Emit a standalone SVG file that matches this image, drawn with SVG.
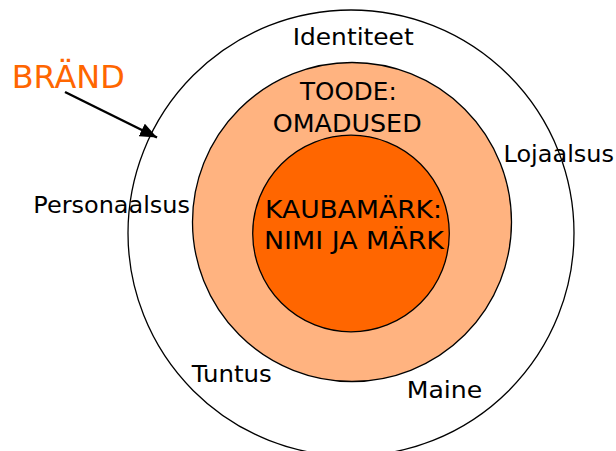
<svg xmlns="http://www.w3.org/2000/svg" width="616" height="451" viewBox="0 0 616 451">
<defs>
<style>
.lbl{font-family:"DejaVu Sans","Open Sans",sans-serif;font-size:23px;fill:#000}
.big{font-size:24px}
.ring{stroke:#000;stroke-width:1.3}
</style>
<marker id="ah" markerUnits="userSpaceOnUse" markerWidth="18" markerHeight="14" refX="17" refY="7" orient="auto">
<path d="M0,0 L17,7 L0,14 Z" fill="#000"/>
</marker>
</defs>
<rect width="616" height="451" fill="#fff"/>
<g id="outer">
<circle class="ring" cx="351" cy="233" r="223" fill="#fff"/>
</g>
<g id="middle">
<circle class="ring" cx="352" cy="222" r="159.5" fill="#FFB380"/>
</g>
<g id="inner">
<circle class="ring" cx="351" cy="233.5" r="98.3" fill="#FF6600"/>
</g>
<g id="connectors">
<line x1="65" y1="92" x2="157" y2="137.5" stroke="#000" stroke-width="2.5" marker-end="url(#ah)"/>
</g>
<g id="brand">
<text x="11.7" y="88.3" style="font-family:'DejaVu Sans','Open Sans',sans-serif;font-size:32px;fill:#FF6600" textLength="113" lengthAdjust="spacingAndGlyphs">BRÄND</text>
</g>
<g id="labels">
<text class="lbl" x="292.7" y="45" textLength="121" lengthAdjust="spacingAndGlyphs">Identiteet</text>
<text class="lbl" x="503.5" y="161.7" textLength="110.5" lengthAdjust="spacingAndGlyphs">Lojaalsus</text>
<text class="lbl" x="33.3" y="213.3" textLength="156.7" lengthAdjust="spacingAndGlyphs">Personaalsus</text>
<text class="lbl" x="191.7" y="381.7" textLength="80" lengthAdjust="spacingAndGlyphs">Tuntus</text>
<text class="lbl" x="406.7" y="397.7" textLength="75.6" lengthAdjust="spacingAndGlyphs">Maine</text>
</g>
<g id="toode">
<text class="lbl big" x="300" y="100" textLength="96.7" lengthAdjust="spacingAndGlyphs">TOODE:</text>
<text class="lbl big" x="272.7" y="131.7" textLength="149" lengthAdjust="spacingAndGlyphs">OMADUSED</text>
</g>
<g id="kaubamark">
<text class="lbl big" x="265" y="218.3" textLength="177" lengthAdjust="spacingAndGlyphs">KAUBAMÄRK:</text>
<text class="lbl big" x="264" y="249.3" textLength="180" lengthAdjust="spacingAndGlyphs">NIMI JA MÄRK</text>
</g>
</svg>
